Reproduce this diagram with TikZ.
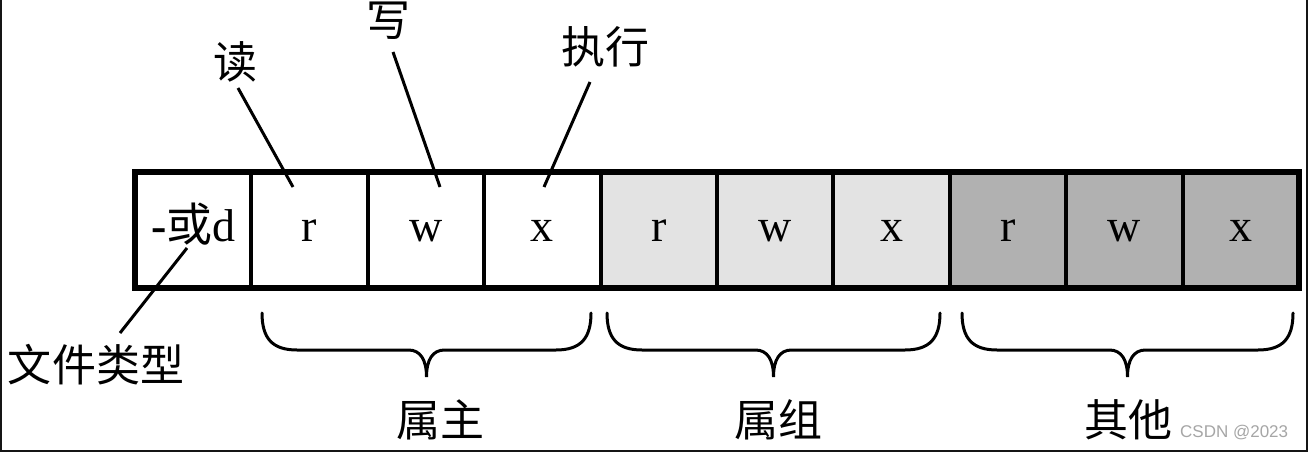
\documentclass[tikz,border=0pt]{standalone}
\usepackage{fontspec}
\setmainfont{Liberation Serif}
\newfontfamily\cjk{Noto Sans CJK SC}
\newfontfamily\wmfont{Liberation Sans}
\definecolor{lightg}{HTML}{E3E3E3}
\definecolor{darkg}{HTML}{B1B1B1}
\definecolor{framec}{HTML}{151515}
\newcommand\bracepath[3]{%
  \draw[brace] (#1,313) .. controls (#1,338) and (#1+10,350) .. (#1+35,350)
    -- (#3-18,350) .. controls (#3-6,350) and (#3,360) .. (#3,377)
    .. controls (#3,360) and (#3+6,350) .. (#3+18,350)
    -- (#2-35,350) .. controls (#2-10,350) and (#2,338) .. (#2,313);}
\begin{document}
\begin{tikzpicture}[x=1pt,y=-1pt,
  cell/.style={draw=black, line width=4pt, minimum width=116.4pt, minimum height=116pt,
    inner sep=0pt, outer sep=0pt, text height=32pt, text depth=9pt,
    font=\fontsize{46}{50}\selectfont},
  ownc/.style={cell, fill=white},
  grpc/.style={cell, fill=lightg},
  othc/.style={cell, fill=darkg},
  lbl/.style={inner sep=0pt, font=\cjk\fontsize{44}{48}\selectfont},
  lead/.style={line width=3pt},
  brace/.style={line width=3pt, line cap=round}]
\useasboundingbox (0,0) rectangle (1308,452);
\fill[white] (0,0) rectangle (1308,452);
% cells
\node[ownc] (c0) at (193.2,230) {\textbf{-}{\cjk 或}d};
\node[ownc] (c1) at (309.6,230) {r};
\node[ownc] (c2) at (426.0,230) {w};
\node[ownc] (c3) at (542.4,230) {x};
\node[grpc] (c4) at (658.8,230) {r};
\node[grpc] (c5) at (775.2,230) {w};
\node[grpc] (c6) at (891.6,230) {x};
\node[othc] (c7) at (1008.0,230) {r};
\node[othc] (c8) at (1124.4,230) {w};
\node[othc] (c9) at (1240.8,230) {x};
\draw[line width=5.5pt] (c0.north west) rectangle (c9.south east);
% labels
\node[lbl] (lread) at (235,62) {读};
\node[lbl] (lwrite) at (388,21) {写};
\node[lbl] (lexec) at (605,47) {执行};
\node[lbl] (ltype) at (96,365) {文件类型};
\node[lbl] (lown) at (440,420) {属主};
\node[lbl] (lgrp) at (778,420) {属组};
\node[lbl] (loth) at (1128,420) {其他};
% leader lines
\coordinate (pread) at (293,187);
\coordinate (pwrite) at (440,187);
\coordinate (pexec) at (544,187);
\coordinate (ptype) at (187,248);
\coordinate (sread) at (238,88);
\coordinate (swrite) at (393,52);
\coordinate (sexec) at (590,82);
\coordinate (stype) at (120,333);
\draw[lead] (sread) -- (pread);
\draw[lead] (swrite) -- (pwrite);
\draw[lead] (sexec) -- (pexec);
\draw[lead] (stype) -- (ptype);
% braces
\bracepath{262}{591}{426.5}
\bracepath{607}{940}{773.5}
\bracepath{962}{1293}{1127.5}
% watermark
\node[anchor=west, inner sep=0pt, text=gray!70, font=\wmfont\fontsize{17}{20}\selectfont] (wm) at (1180,433) {CSDN @2023};
% frame
\draw[line width=2.5pt, framec] (1.2,0) -- (1.2,450.8) -- (1306.8,450.8) -- (1306.8,0);
\end{tikzpicture}
\end{document}
